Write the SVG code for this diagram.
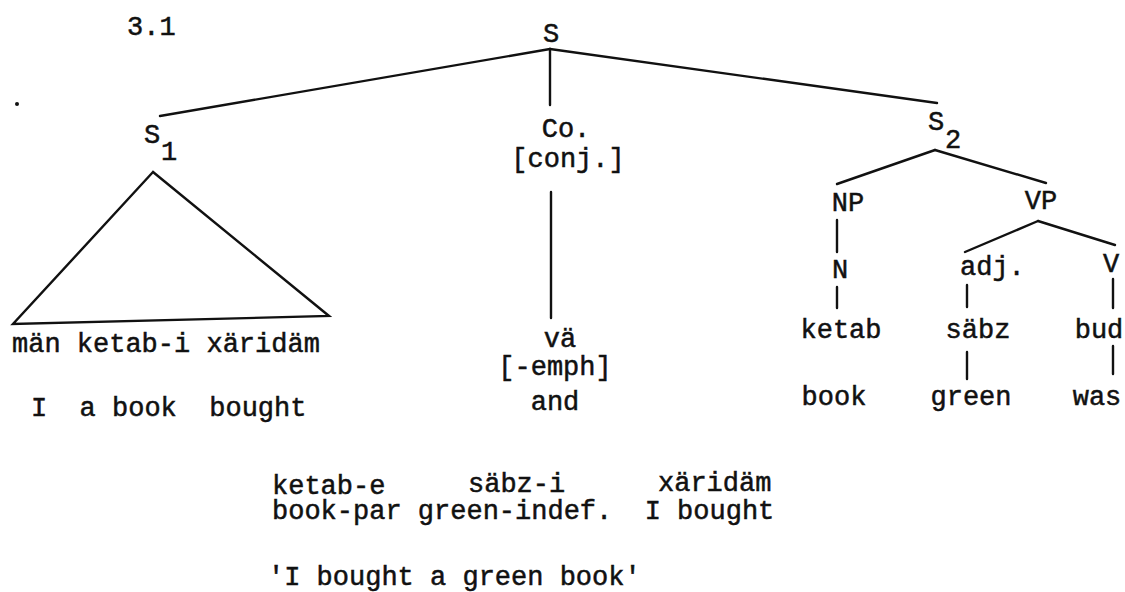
<svg xmlns="http://www.w3.org/2000/svg" width="1125" height="592" viewBox="0 0 1125 592">
<style>
text{font-family:"Liberation Mono","Courier New",monospace;font-size:27px;fill:#111;stroke:#111;stroke-width:0.5;white-space:pre;}
.m{text-anchor:middle;}
line,polygon{stroke:#111;stroke-width:2.4;fill:none;stroke-linecap:round;}
</style>
<rect width="1125" height="592" fill="#fff"/>
<text x="127" y="35">3.1</text>
<circle cx="17" cy="104" r="2" fill="#111"/>
<g id="connectors">
<line x1="550" y1="49" x2="160" y2="116"/>
<line x1="550" y1="49" x2="937" y2="103"/>
<line x1="550" y1="49" x2="550" y2="105"/>
<line x1="551" y1="192" x2="551" y2="318"/>
<polygon points="153,172 13,324 329,316"/>
<line x1="935" y1="150" x2="837" y2="184"/>
<line x1="935" y1="150" x2="1046" y2="183"/>
<line x1="837" y1="220" x2="837" y2="252"/>
<line x1="837" y1="287" x2="837" y2="308"/>
<line x1="1038" y1="221" x2="965" y2="252"/>
<line x1="1038" y1="221" x2="1115" y2="245"/>
<line x1="967" y1="285" x2="967" y2="307"/>
<line x1="1113" y1="279" x2="1113" y2="308"/>
<line x1="967" y1="352" x2="967" y2="379"/>
<line x1="1113" y1="346" x2="1113" y2="374"/>
</g>
<g id="S"><text class="m" x="551" y="42">S</text></g>
<g id="S1"><text x="144" y="143">S</text><text x="161" y="160">1</text></g>
<g id="Co"><text class="m" x="566" y="137">Co.</text><text class="m" x="568" y="167">[conj.]</text></g>
<g id="va"><text class="m" x="560" y="347">vä</text><text class="m" x="555" y="375">[-emph]</text><text class="m" x="555" y="410">and</text></g>
<g id="S1-text"><text x="12" y="352">män ketab-i xäridäm</text><text x="31" y="416">I  a book  bought</text></g>
<g id="S2"><text x="928" y="130">S</text><text x="945" y="148">2</text></g>
<g id="NP"><text class="m" x="848" y="211">NP</text></g>
<g id="VP"><text class="m" x="1041" y="209">VP</text></g>
<g id="N"><text class="m" x="840" y="278">N</text></g>
<g id="adj"><text x="960" y="275">adj.</text></g>
<g id="V"><text class="m" x="1111" y="272">V</text></g>
<g id="ketab"><text class="m" x="841" y="338">ketab</text><text class="m" x="834" y="405">book</text></g>
<g id="sabz"><text class="m" x="978" y="338">säbz</text><text class="m" x="971" y="405">green</text></g>
<g id="bud"><text class="m" x="1099" y="338">bud</text><text class="m" x="1097" y="405">was</text></g>
<g id="gloss">
<text x="272" y="494">ketab-e</text><text x="468" y="492">säbz-i</text><text x="658" y="491">xäridäm</text>
<text x="272" y="519">book-par green-indef.  I bought</text>
<text x="268" y="585">'I bought a green book'</text>
</g>
</svg>
